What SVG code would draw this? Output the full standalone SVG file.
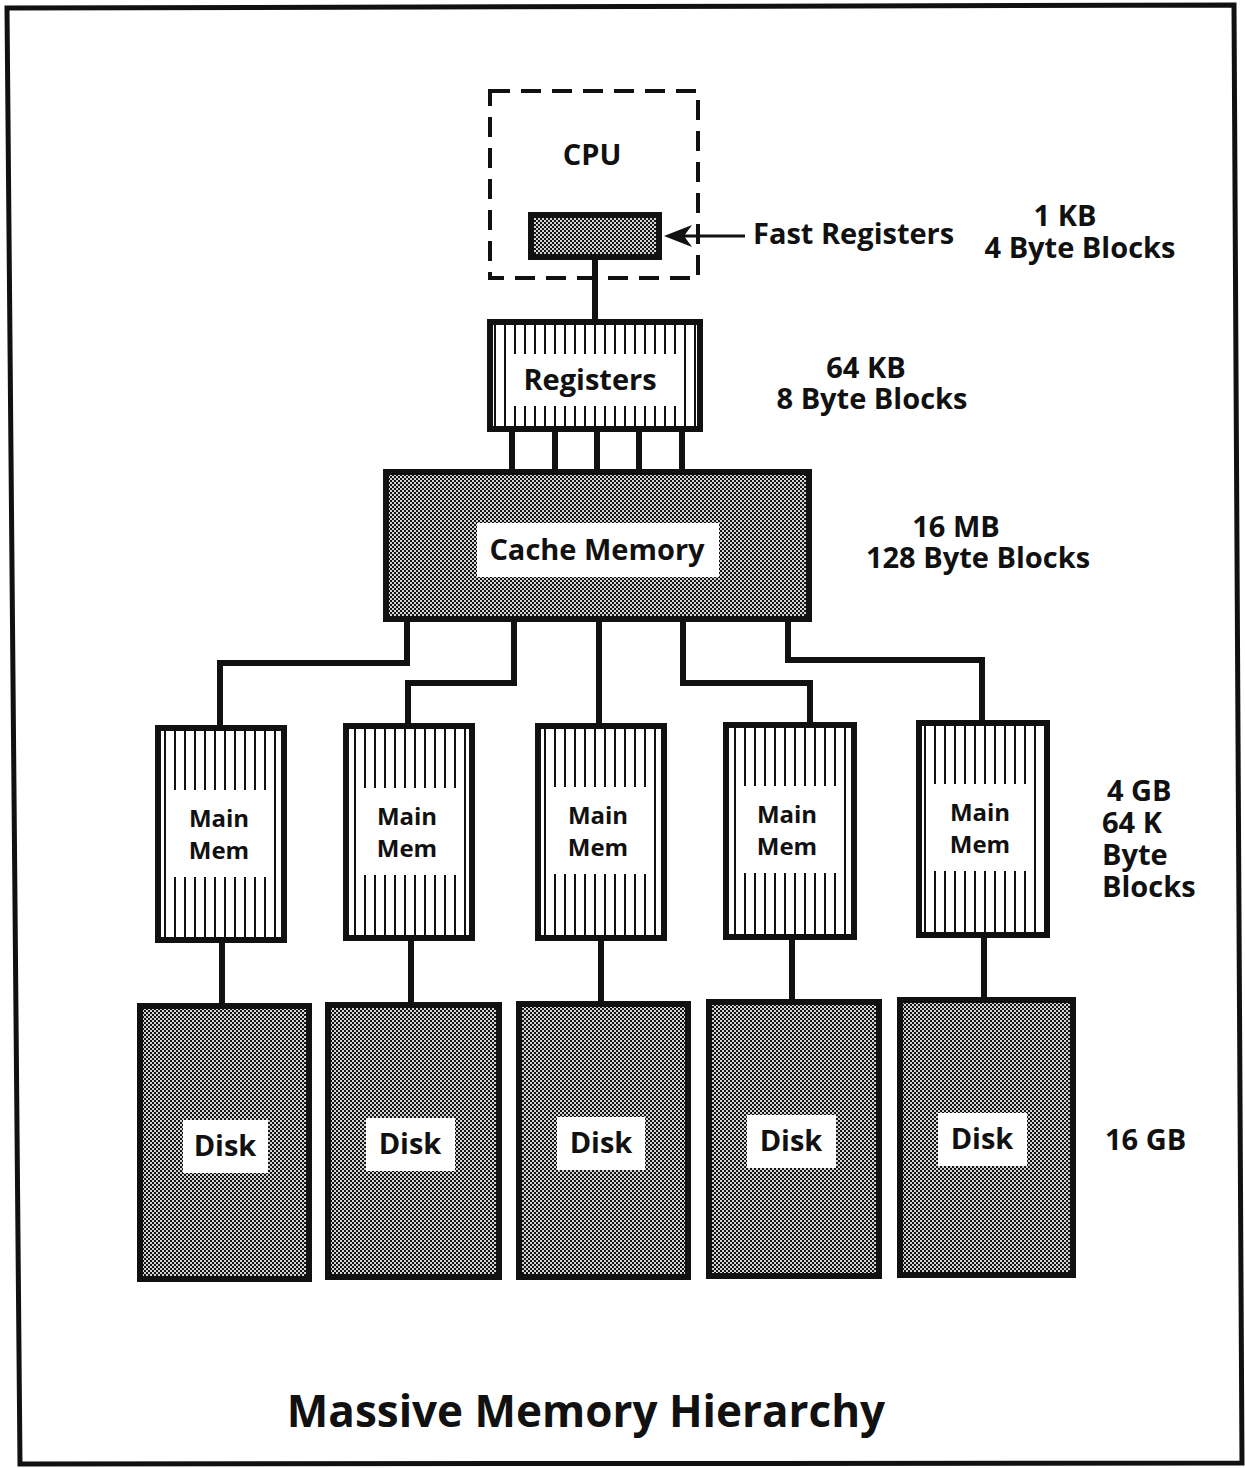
<svg xmlns="http://www.w3.org/2000/svg" width="1245" height="1468" viewBox="0 0 1245 1468">
<defs>
<pattern id="dither" patternUnits="userSpaceOnUse" width="4" height="4">
<rect width="4" height="4" fill="#141414"/>
<rect x="0" y="0" width="2" height="2" fill="#d4d4d4"/>
<rect x="2" y="2" width="2" height="2" fill="#d4d4d4"/>
</pattern>
<pattern id="hatch" patternUnits="userSpaceOnUse" width="10" height="10">
<rect width="10" height="10" fill="#fff"/>
<rect x="4" y="0" width="2" height="10" fill="#111"/>
</pattern>
</defs>
<style>
text{font-family:"Open Sans","Liberation Sans",sans-serif;font-weight:700;fill:#111;}
.lbl{font-size:29px;}
.mm{font-size:24px;}
.c{text-anchor:middle;}
.box{stroke:#111;stroke-width:6;}
.dark{fill:url(#dither);}
.hat{fill:url(#hatch);}
.white{fill:#fff;}
.wire{fill:none;stroke:#111;stroke-width:6;stroke-linejoin:miter;}
</style>
<rect width="1245" height="1468" fill="#fff"/>
<path d="M7,8 L1234,5 L1242,1463 L20,1464 Z" fill="none" stroke="#111" stroke-width="5"/>

<g id="connectors">
<path class="wire" d="M595,258 V322"/>
<path class="wire" d="M512,430 V473 M555,430 V473 M597,430 V473 M639,430 V473 M682,430 V473"/>
<path class="wire" d="M407,619 V663 H220 V728"/>
<path class="wire" d="M514,619 V683 H408 V726"/>
<path class="wire" d="M599,619 V726"/>
<path class="wire" d="M683,619 V683 H810 V725"/>
<path class="wire" d="M788,619 V660 H982 V723"/>
<path class="wire" d="M222,940 V1006 M411,938 V1005 M601,938 V1004 M792,937 V1002 M984,935 V1000"/>
<path d="M683,236 H745" fill="none" stroke="#111" stroke-width="3"/>
<path d="M664,236 L692,225 L684,236 L692,247 Z" fill="#111"/>
</g>

<g id="cpu">
<rect x="490" y="91" width="208" height="187" fill="none" stroke="#111" stroke-width="4" stroke-dasharray="20 11"/>
<text class="lbl c" x="592" y="165">CPU</text>
</g>

<g id="fast-registers">
<rect class="box dark" x="531" y="215" width="128" height="42"/>
<text class="lbl" x="753" y="244">Fast Registers</text>
</g>

<g id="registers">
<rect class="box hat" x="490" y="322" width="210" height="107"/>
<rect class="white" x="508" y="354" width="168" height="52"/>
<text class="lbl c" x="590" y="390">Registers</text>
</g>

<g id="cache">
<rect class="box dark" x="386" y="472" width="423" height="147"/>
<rect class="white" x="477" y="523" width="242" height="54"/>
<text class="lbl c" x="597" y="560">Cache Memory</text>
</g>

<g id="mainmem1">
<rect class="box hat" x="158" y="728" width="126" height="212"/>
<rect class="white" x="172" y="790" width="97" height="87"/>
<text class="mm c" x="219" y="827">Main<tspan x="219" dy="32">Mem</tspan></text>
</g>
<g id="mainmem2">
<rect class="box hat" x="346" y="726" width="126" height="212"/>
<rect class="white" x="360" y="788" width="97" height="87"/>
<text class="mm c" x="407" y="825">Main<tspan x="407" dy="32">Mem</tspan></text>
</g>
<g id="mainmem3">
<rect class="box hat" x="538" y="726" width="126" height="212"/>
<rect class="white" x="552" y="787" width="97" height="87"/>
<text class="mm c" x="598" y="824">Main<tspan x="598" dy="32">Mem</tspan></text>
</g>
<g id="mainmem4">
<rect class="box hat" x="726" y="725" width="128" height="212"/>
<rect class="white" x="740" y="786" width="97" height="87"/>
<text class="mm c" x="787" y="823">Main<tspan x="787" dy="32">Mem</tspan></text>
</g>
<g id="mainmem5">
<rect class="box hat" x="919" y="723" width="128" height="212"/>
<rect class="white" x="932" y="784" width="98" height="87"/>
<text class="mm c" x="980" y="821">Main<tspan x="980" dy="32">Mem</tspan></text>
</g>

<g id="disk1">
<rect class="box dark" x="140" y="1006" width="169" height="273"/>
<rect class="white" x="183" y="1120" width="85" height="53"/>
<text class="lbl c" x="225" y="1156">Disk</text>
</g>
<g id="disk2">
<rect class="box dark" x="328" y="1005" width="171" height="272"/>
<rect class="white" x="366" y="1118" width="89" height="53"/>
<text class="lbl c" x="410" y="1154">Disk</text>
</g>
<g id="disk3">
<rect class="box dark" x="519" y="1004" width="169" height="273"/>
<rect class="white" x="557" y="1117" width="88" height="53"/>
<text class="lbl c" x="601" y="1153">Disk</text>
</g>
<g id="disk4">
<rect class="box dark" x="709" y="1002" width="170" height="274"/>
<rect class="white" x="747" y="1115" width="89" height="53"/>
<text class="lbl c" x="791" y="1151">Disk</text>
</g>
<g id="disk5">
<rect class="box dark" x="900" y="1000" width="173" height="275"/>
<rect class="white" x="938" y="1113" width="89" height="53"/>
<text class="lbl c" x="982" y="1149">Disk</text>
</g>

<g id="sizes">
<text class="lbl c" x="1065" y="226">1 KB<tspan x="1080" dy="32">4 Byte Blocks</tspan></text>
<text class="lbl c" x="866" y="378">64 KB<tspan x="872" dy="31">8 Byte Blocks</tspan></text>
<text class="lbl c" x="956" y="537">16 MB<tspan x="978" dy="31">128 Byte Blocks</tspan></text>
<text class="lbl" x="1107" y="801">4 GB<tspan x="1102" dy="32">64 K</tspan><tspan x="1102" dy="32">Byte</tspan><tspan x="1102" dy="32">Blocks</tspan></text>
<text class="lbl" x="1105" y="1150">16 GB</text>
</g>

<text id="title" x="586" y="1427" font-size="44" class="c">Massive Memory Hierarchy</text>
</svg>
